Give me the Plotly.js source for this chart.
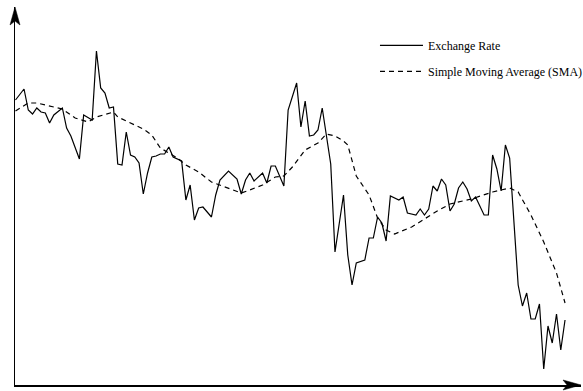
<!DOCTYPE html>
<html>
<head>
<meta charset="utf-8">
<script src="https://cdn.plot.ly/plotly-3.0.1.min.js"></script>
<style>html,body{margin:0;padding:0;background:#fff;}#chart{width:583px;height:391px;}</style>
</head>
<body>
<div id="chart"></div>
<script>
// Exchange rate (day index -> rate)
const days = [
  0,2,3,4,5,6,7,8,9,
  11,12,13,15,16,18,19,20,21,22,23,
  24,25,26,27,28,29,30,31,32,33,34,35,36,37,
  39,40,41,42,43,44,
  46,47,48,
  50,
  52,53,54,55,56,
  58,59,60,61,
  63,64,
  66,67,68,69,70,71,72,
  74,75,
  77,78,79,80,
  82,83,84,85,86,87,88,
  90,91,92,
  94,95,96,97,98,99,100,101,102,103,104,105,106,107,108,
  110,111,112,113,114,115,116,
  118,119,120,121,122,123,124,125,126,127,128,129
];
const rate = [
  1.300,1.311,1.290,1.286,1.292,1.288,1.287,1.277,1.285,
  1.292,1.272,1.264,1.241,1.285,1.280,1.349,1.312,1.307,1.292,1.293,
  1.236,1.235,1.268,1.245,1.243,1.237,1.206,1.227,1.243,1.244,1.246,1.246,1.253,1.243,
  1.239,1.200,1.215,1.180,1.192,1.193,
  1.183,1.205,1.220,
  1.229,
  1.221,1.206,1.220,1.227,1.219,
  1.227,1.217,1.234,1.234,
  1.214,1.290,
  1.317,1.273,1.299,1.264,1.265,1.270,1.292,
  1.236,1.148,
  1.205,1.145,1.115,1.137,
  1.140,1.162,1.162,1.183,1.177,1.159,1.204,
  1.200,1.203,1.187,
  1.185,1.191,1.185,1.191,1.214,1.209,1.221,1.215,1.189,1.196,1.212,1.218,1.211,1.199,1.203,
  1.185,1.185,1.245,1.231,1.209,1.255,1.242,
  1.115,1.094,1.107,1.081,1.081,1.096,1.031,1.074,1.057,1.086,1.050,1.080
];
// Simple moving average
const smaDays = [
  0,3,5,8,11,14,17,19,22,23,
  24,27,28,30,32,34,36,38,40,43,
  46,50,53,55,58,61,63,65,68,71,
  73,75,77,78,80,83,85,87,89,93,
  96,99,102,107,112,116,118,121,124,127,
  129
];
const sma = [
  1.289,1.297,1.297,1.294,1.291,1.282,1.278,1.283,1.287,1.288,
  1.283,1.277,1.275,1.271,1.265,1.252,1.247,1.242,1.235,1.228,
  1.218,1.212,1.207,1.210,1.215,1.223,1.224,1.233,1.250,1.257,
  1.266,1.264,1.259,1.255,1.224,1.205,1.182,1.170,1.166,1.173,
  1.181,1.189,1.196,1.201,1.208,1.212,1.208,1.185,1.158,1.127,
  1.097
];
const seriesNames = ['Exchange Rate', 'Simple Moving Average (SMA)'];

const traces = [
  {x: days, y: rate, type: 'scatter', mode: 'lines', name: seriesNames[0],
   legendgroup: 'a', line: {color: '#000', width: 1.2}},
  {x: smaDays, y: sma, type: 'scatter', mode: 'lines', name: seriesNames[1],
   legendgroup: 'b', line: {color: '#000', width: 1.2, dash: '5px,4px'}}
];

const layout = {
  width: 583, height: 391,
  margin: {l: 15, r: 2, t: 7, b: 6, pad: 0, autoexpand: false},
  paper_bgcolor: '#fff', plot_bgcolor: '#fff',
  font: {family: '"Liberation Serif", "Times New Roman", serif', size: 12, color: '#000'},
  showlegend: true,
  legend: {x: 0.636, y: 0.937, xanchor: 'left', yanchor: 'top', bgcolor: 'rgba(0,0,0,0)',
           borderwidth: 0, itemwidth: 43, tracegroupgap: 7, traceorder: 'grouped',
           font: {family: '"Liberation Serif", "Times New Roman", serif', size: 12, color: '#000'}},
  xaxis: {range: [-0.117, 132.75], showline: true, linecolor: '#000', linewidth: 1.5,
          showticklabels: false, ticks: '', showgrid: false, zeroline: false, mirror: false},
  yaxis: {range: [1.015, 1.393], showline: true, linecolor: '#000', linewidth: 1.5,
          showticklabels: false, ticks: '', showgrid: false, zeroline: false, mirror: false},
  shapes: [
    {type: 'path', xref: 'paper', yref: 'paper', xsizemode: 'pixel', ysizemode: 'pixel',
     xanchor: 0, yanchor: 1, path: 'M0,0 L-5,-18 L0,-14 L5,-18 Z',
     fillcolor: '#000', line: {color: '#000', width: 0.5}},
    {type: 'path', xref: 'paper', yref: 'paper', xsizemode: 'pixel', ysizemode: 'pixel',
     xanchor: 1, yanchor: 0, path: 'M0,0 L-18,5 L-14,0 L-18,-5 Z',
     fillcolor: '#000', line: {color: '#000', width: 0.5}}
  ]
};

Plotly.newPlot('chart', traces, layout, {displayModeBar: false, staticPlot: true});
</script>
</body>
</html>
